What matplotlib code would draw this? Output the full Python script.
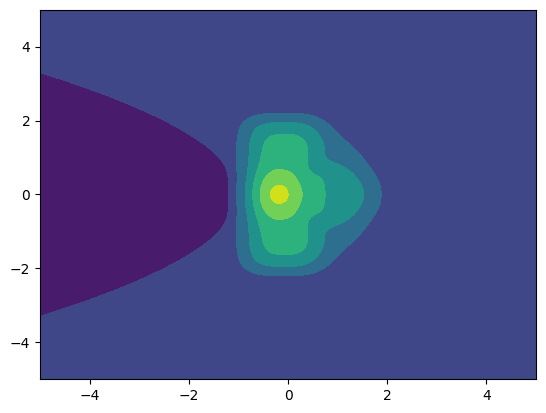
import numpy as np
import matplotlib
matplotlib.use("Agg")
import matplotlib.pyplot as plt

# contour levels of the field
levels = [0, 1, 2, 3, 4, 5, 6, 7]
background = 1.5

# smooth bumps that make up the field
bump_name = ["plateau", "core", "lobe", "shoulder_up", "shoulder_down",
             "rim_up", "rim_down"]
bump_amp = [2.9, 1.86, 1.65, 0.6, 0.6, 0.28, 0.28]
bump_cx = [-0.11, -0.19, 1.05, 0.85, 0.85, 1.35, 1.35]
bump_cy = [0.0, 0.0, 0.0, 1.3, -1.3, 1.05, -1.05]
bump_sx_left = [0.771, 0.53, 0.636, 0.5, 0.5, 0.4, 0.4]
bump_sx_right = [0.80, 0.50, 0.795, 0.5, 0.5, 0.4, 0.4]
bump_sy = [2.05, 0.635, 0.954, 0.5, 0.5, 0.4, 0.4]
bump_px = [3, 2, 4.5, 2, 2, 2, 2]
bump_py = [8, 2, 4.5, 2, 2, 2, 2]
bump_radial = [False, True, True, True, True, True, True]

# low region on the left (parabola-like boundary)
trough_depth = 1.0
trough_x0 = 1.145
trough_c = 0.36
trough_e = 0.51
trough_k = 15.0

n = 500
x = np.linspace(-5, 5, n)
y = np.linspace(-5, 5, n)
X, Y = np.meshgrid(x, y)

Z = np.full_like(X, background)
for a, cx, cy, sl, sr, sy, px, py, rad in zip(bump_amp, bump_cx, bump_cy,
                                              bump_sx_left, bump_sx_right,
                                              bump_sy, bump_px, bump_py,
                                              bump_radial):
    dx = X - cx
    dy = Y - cy
    sx = np.where(dx < 0, sl, sr)
    if rad:
        rho2 = (dx / sx) ** 2 + (dy / sy) ** 2
        Z += a * np.exp(-rho2 ** (px / 2.0))
    else:
        Z += a * np.exp(-(np.abs(dx) / sx) ** px - (np.abs(dy) / sy) ** py)

ay = np.abs(Y)
g = X + trough_x0 + trough_c * Y ** 2 * ay ** 3 / (ay ** 3 + trough_e)
Z -= trough_depth / (1.0 + np.exp(np.clip(trough_k * g, -50, 50)))

fig, ax = plt.subplots(figsize=(6.4, 4.8), dpi=100)
ax.contourf(X, Y, Z, levels=levels, cmap="viridis")
ax.set_xticks([-4, -2, 0, 2, 4])
ax.set_yticks([-4, -2, 0, 2, 4])
fig.savefig("out.png", dpi=100, bbox_inches="tight")
